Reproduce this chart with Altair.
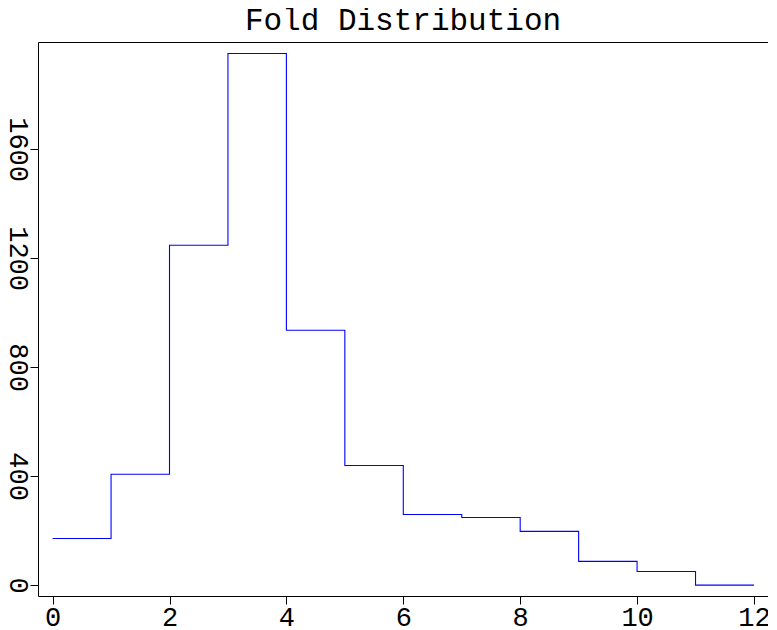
import altair as alt
import pandas as pd

bin_starts = [0, 1, 2, 3, 4, 5, 6, 7, 8, 9, 10, 11, 12]
counts = [171, 407, 1247, 1951, 935, 439, 259, 248, 197, 87, 50, 0, 0]
x_ticks = [0, 2, 4, 6, 8, 10, 12]
y_ticks = [0, 400, 800, 1200, 1600]

df = pd.DataFrame({"fold": bin_starts, "count": counts})

FONT = "Liberation Mono"

chart = alt.Chart(df).mark_line(
    interpolate="step-after", color="#0000ff", strokeWidth=1.1
).encode(
    x=alt.X("fold:Q",
            scale=alt.Scale(domain=[-0.25, 12.24], nice=False, zero=False),
            axis=alt.Axis(values=x_ticks, title=None, grid=False, domain=False,
                          tickSize=8, tickColor="black", labelPadding=0,
                          labelFont=FONT, labelFontSize=27, labelColor="black",
                          format="d")),
    y=alt.Y("count:Q",
            scale=alt.Scale(domain=[-40, 1993], nice=False, zero=False),
            axis=alt.Axis(values=y_ticks, title=None, grid=False, domain=False,
                          tickSize=8, tickColor="black", labelPadding=0,
                          labelAngle=90, labelAlign="center", labelBaseline="top",
                          labelFont=FONT, labelFontSize=27, labelColor="black",
                          format="d")),
).properties(
    width=730,
    height=554,
    title=alt.TitleParams("Fold Distribution", font=FONT, fontSize=31,
                          fontWeight="normal", color="black", anchor="middle",
                          offset=5),
    padding={"left": -4, "top": -3, "right": -3, "bottom": 0},
).configure(
    background="white"
).configure_view(
    stroke="black", strokeWidth=1
)

chart.save("out.html", embed_options={"renderer": "svg", "actions": False})
